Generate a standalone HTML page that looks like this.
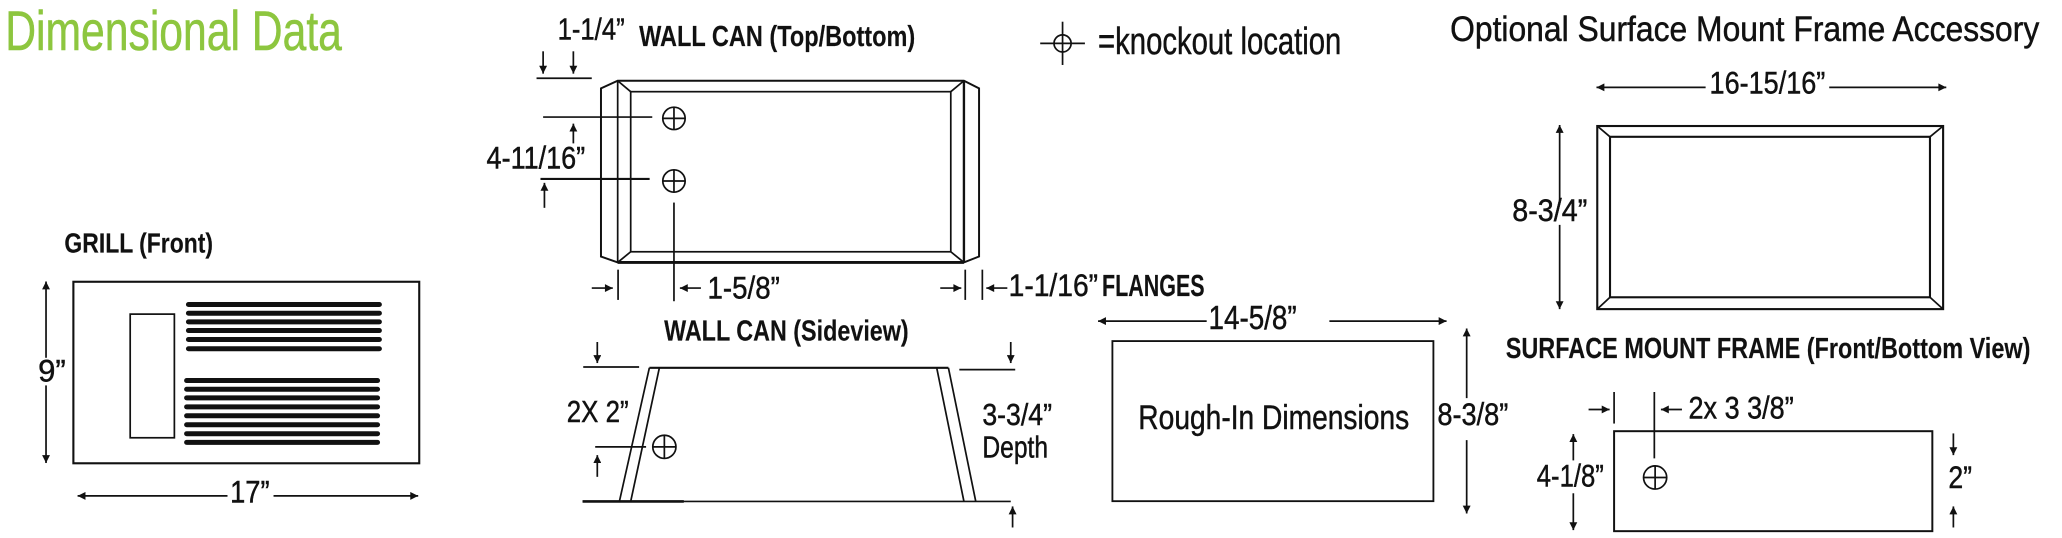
<!DOCTYPE html>
<html><head><meta charset="utf-8"><style>
html,body{margin:0;padding:0;background:#fff;}
svg{display:block;}
text{font-family:"Liberation Sans",sans-serif;fill:#111;stroke:#111;stroke-width:0.35;}
.b{font-weight:bold;stroke-width:0.1;}
</style></head><body>
<svg width="2062" height="538" viewBox="0 0 1568 409" preserveAspectRatio="none" xmlns="http://www.w3.org/2000/svg">
<defs>
<marker id="a" viewBox="0 0 10 10" refX="10" refY="5" markerWidth="8" markerHeight="6" markerUnits="userSpaceOnUse" orient="auto"><path d="M0,0L10,5L0,10z" fill="#111"/></marker>
</defs>
<g stroke="#111" stroke-width="1.3" fill="none">
<rect x="55.8" y="214.2" width="263" height="138" stroke-width="1.6"/>
<rect x="99" y="238.8" width="33.6" height="94"/>
</g>
<g fill="#111">
<rect x="141.4" y="229.6" width="149" height="3.8" rx="2"/>
<rect x="141.4" y="236.2" width="149" height="3.8" rx="2"/>
<rect x="141.4" y="242.8" width="149" height="3.8" rx="2"/>
<rect x="141.4" y="249.4" width="149" height="3.8" rx="2"/>
<rect x="141.4" y="256.2" width="149" height="3.8" rx="2"/>
<rect x="141.4" y="263.2" width="149" height="3.8" rx="2"/>
<rect x="140" y="287.4" width="149" height="3.8" rx="2"/>
<rect x="140" y="294" width="149" height="3.8" rx="2"/>
<rect x="140" y="300.6" width="149" height="3.8" rx="2"/>
<rect x="140" y="307.4" width="149" height="3.8" rx="2"/>
<rect x="140" y="314.2" width="149" height="3.8" rx="2"/>
<rect x="140" y="321" width="149" height="3.8" rx="2"/>
<rect x="140" y="327.8" width="149" height="3.8" rx="2"/>
<rect x="140" y="334.4" width="149" height="3.8" rx="2"/>
</g>
<g stroke="#111" stroke-width="1.3" fill="none" marker-end="url(#a)">
<line x1="35" y1="272" x2="35" y2="214"/>
<line x1="35" y1="293" x2="35" y2="352"/>
<line x1="173" y1="377" x2="59" y2="377"/>
<line x1="208" y1="377" x2="318" y2="377"/>
</g>
<text x="49" y="192" class="b" font-size="21" textLength="113" lengthAdjust="spacingAndGlyphs">GRILL (Front)</text>
<text x="29" y="290" font-size="24" textLength="21" lengthAdjust="spacingAndGlyphs">9”</text>
<text x="175" y="382" font-size="24" textLength="30" lengthAdjust="spacingAndGlyphs">17”</text>

<text x="4" y="38" font-size="42" style="fill:#8dc63f;stroke:#8dc63f;stroke-width:0.4" textLength="256" lengthAdjust="spacingAndGlyphs">Dimensional Data</text>

<text x="424" y="30" font-size="23" textLength="51" lengthAdjust="spacingAndGlyphs">1-1/4”</text>
<text x="486" y="35" class="b" font-size="22" textLength="210" lengthAdjust="spacingAndGlyphs">WALL CAN (Top/Bottom)</text>
<g stroke="#111" stroke-width="1.3" fill="none">
<path d="M469.7,61.4 L733,61.4 L744.5,67.2 L744.5,195 L733,199.5 L469.7,199.5 L457,195 L457,67.2 Z" stroke-width="1.5"/>
<line x1="469.7" y1="199.5" x2="733" y2="199.5" stroke-width="2.2"/>
<line x1="469.7" y1="61.4" x2="469.7" y2="199.5"/>
<line x1="733" y1="61.4" x2="733" y2="199.5" stroke-width="1.8"/>
<rect x="479.6" y="69.7" width="243.4" height="121.7"/>
<line x1="469.7" y1="61.4" x2="479.6" y2="69.7"/>
<line x1="733" y1="61.4" x2="723" y2="69.7"/>
<line x1="469.7" y1="199.5" x2="479.6" y2="191.4"/>
<line x1="733" y1="199.5" x2="723" y2="191.4"/>
<circle cx="512.5" cy="90" r="8.5"/><line x1="504" y1="90" x2="521" y2="90"/><line x1="512.5" y1="81.5" x2="512.5" y2="98.5"/>
<circle cx="512.5" cy="137.6" r="8.5"/><line x1="504" y1="137.6" x2="521" y2="137.6"/><line x1="512.5" y1="129.1" x2="512.5" y2="146.1"/>
<line x1="408" y1="59.5" x2="450" y2="59.5"/>
<line x1="413" y1="89" x2="496" y2="89"/>
<line x1="411" y1="136" x2="494" y2="136" stroke-width="1.6"/>
<line x1="512.5" y1="154" x2="512.5" y2="229"/>
<line x1="470" y1="205" x2="470" y2="228"/>
<line x1="734" y1="205" x2="734" y2="228"/>
<line x1="747" y1="205" x2="747" y2="228"/>
</g>
<g stroke="#111" stroke-width="1.3" fill="none" marker-end="url(#a)">
<line x1="413" y1="39" x2="413" y2="56"/>
<line x1="436" y1="39" x2="436" y2="56"/>
<line x1="436" y1="109" x2="436" y2="94"/>
<line x1="414" y1="158" x2="414" y2="139"/>
<line x1="450" y1="219" x2="466" y2="219"/>
<line x1="533" y1="219" x2="517" y2="219"/>
<line x1="715" y1="219" x2="731" y2="219"/>
<line x1="766" y1="219" x2="750" y2="219"/>
</g>
<text x="370" y="128" font-size="24" textLength="75" lengthAdjust="spacingAndGlyphs">4-11/16”</text>
<text x="538" y="227" font-size="24" textLength="55" lengthAdjust="spacingAndGlyphs">1-5/8”</text>
<text x="767" y="225" font-size="24" textLength="68" lengthAdjust="spacingAndGlyphs">1-1/16”</text>
<text x="838" y="225" class="b" font-size="23" textLength="78" lengthAdjust="spacingAndGlyphs">FLANGES</text>

<text x="505" y="259" class="b" font-size="22" textLength="186" lengthAdjust="spacingAndGlyphs">WALL CAN (Sideview)</text>
<g stroke="#111" stroke-width="1.3" fill="none">
<line x1="493.8" y1="279.6" x2="721.2" y2="279.6" stroke-width="1.6"/>
<line x1="443" y1="381.2" x2="768.6" y2="381.2" stroke-width="1.3"/>
<line x1="443" y1="381.2" x2="520" y2="381.2" stroke-width="2"/>
<line x1="493.8" y1="279.6" x2="471" y2="381.2"/>
<line x1="501.4" y1="279.6" x2="479.6" y2="381.2"/>
<line x1="712.3" y1="279.6" x2="733" y2="381.2"/>
<line x1="721.2" y1="279.6" x2="742" y2="381.2"/>
<line x1="443.5" y1="279" x2="486" y2="279"/>
<line x1="729.5" y1="281" x2="772" y2="281"/>
<circle cx="505.2" cy="339.7" r="8.8"/><line x1="496.4" y1="339.7" x2="514" y2="339.7"/><line x1="505.2" y1="330.9" x2="505.2" y2="348.5"/>
<line x1="452.6" y1="339.7" x2="491.3" y2="339.7"/>
</g>
<g stroke="#111" stroke-width="1.3" fill="none" marker-end="url(#a)">
<line x1="454.2" y1="260" x2="454.2" y2="276"/>
<line x1="768.6" y1="260" x2="768.6" y2="276"/>
<line x1="454.2" y1="362.5" x2="454.2" y2="346"/>
<line x1="770" y1="401" x2="770" y2="385"/>
</g>
<text x="431" y="321" font-size="23" textLength="47" lengthAdjust="spacingAndGlyphs">2X 2”</text>
<text x="747" y="323" font-size="23" textLength="53" lengthAdjust="spacingAndGlyphs">3-3/4”</text>
<text x="747" y="348" font-size="23" textLength="50" lengthAdjust="spacingAndGlyphs">Depth</text>

<g stroke="#111" stroke-width="1.3" fill="none">
<circle cx="808" cy="33" r="6.5"/>
<line x1="791" y1="33" x2="825" y2="33"/>
<line x1="808" y1="16.5" x2="808" y2="49.4"/>
</g>
<text x="835" y="41" font-size="29" textLength="185" lengthAdjust="spacingAndGlyphs">=knockout location</text>

<text x="1102.7" y="31" font-size="27" textLength="448" lengthAdjust="spacingAndGlyphs">Optional Surface Mount Frame Accessory</text>

<g stroke="#111" stroke-width="1.3" fill="none">
<rect x="1214.6" y="95.8" width="263" height="139.2" stroke-width="1.6"/>
<rect x="1224.3" y="104" width="243.3" height="122" stroke-width="1.6"/>
<line x1="1214.6" y1="95.8" x2="1224.3" y2="104"/>
<line x1="1477.6" y1="95.8" x2="1467.6" y2="104"/>
<line x1="1214.6" y1="235" x2="1224.3" y2="226"/>
<line x1="1477.6" y1="235" x2="1467.6" y2="226"/>
</g>
<g stroke="#111" stroke-width="1.3" fill="none" marker-end="url(#a)">
<line x1="1297" y1="66.4" x2="1214" y2="66.4"/>
<line x1="1391" y1="66.4" x2="1480" y2="66.4"/>
<line x1="1186" y1="152" x2="1186" y2="95"/>
<line x1="1186" y1="171" x2="1186" y2="235"/>
</g>
<text x="1300" y="71" font-size="24" textLength="88" lengthAdjust="spacingAndGlyphs">16-15/16”</text>
<text x="1150" y="168" font-size="24" textLength="57" lengthAdjust="spacingAndGlyphs">8-3/4”</text>

<text x="1145" y="272" class="b" font-size="22" textLength="399" lengthAdjust="spacingAndGlyphs">SURFACE MOUNT FRAME (Front/Bottom View)</text>

<g stroke="#111" stroke-width="1.3" fill="none">
<rect x="1227.4" y="327.8" width="242" height="76" stroke-width="1.5"/>
<circle cx="1258.6" cy="363" r="8.8"/><line x1="1249.8" y1="363" x2="1267.4" y2="363"/><line x1="1258.6" y1="354.2" x2="1258.6" y2="371.8"/>
<line x1="1258" y1="298" x2="1258" y2="348.5"/>
<line x1="1227.4" y1="298" x2="1227.4" y2="322"/>
</g>
<g stroke="#111" stroke-width="1.3" fill="none" marker-end="url(#a)">
<line x1="1208" y1="311.3" x2="1224" y2="311.3"/>
<line x1="1279" y1="311.3" x2="1263" y2="311.3"/>
<line x1="1196.4" y1="350" x2="1196.4" y2="330"/>
<line x1="1196.4" y1="375" x2="1196.4" y2="403"/>
<line x1="1485.4" y1="329.5" x2="1485.4" y2="346"/>
<line x1="1485.4" y1="401" x2="1485.4" y2="385"/>
</g>
<text x="1284" y="318" font-size="24" textLength="80" lengthAdjust="spacingAndGlyphs">2x 3 3/8”</text>
<text x="1168.6" y="370" font-size="24" textLength="51" lengthAdjust="spacingAndGlyphs">4-1/8”</text>
<text x="1481.6" y="371" font-size="24" textLength="18" lengthAdjust="spacingAndGlyphs">2”</text>

<g stroke="#111" stroke-width="1.4" fill="none">
<rect x="845.9" y="259.3" width="244.1" height="121.7"/>
</g>
<g stroke="#111" stroke-width="1.3" fill="none" marker-end="url(#a)">
<line x1="917.6" y1="244.1" x2="835" y2="244.1"/>
<line x1="1010.9" y1="244.1" x2="1100" y2="244.1"/>
<line x1="1115.3" y1="302.7" x2="1115.3" y2="249.7"/>
<line x1="1115.3" y1="334.6" x2="1115.3" y2="390.4"/>
</g>
<text x="919" y="250" font-size="25" textLength="67" lengthAdjust="spacingAndGlyphs">14-5/8”</text>
<text x="1093" y="323" font-size="24" textLength="54" lengthAdjust="spacingAndGlyphs">8-3/8”</text>
<text x="865.6" y="326" font-size="26" textLength="206" lengthAdjust="spacingAndGlyphs">Rough-In Dimensions</text>
</svg>
</body></html>
